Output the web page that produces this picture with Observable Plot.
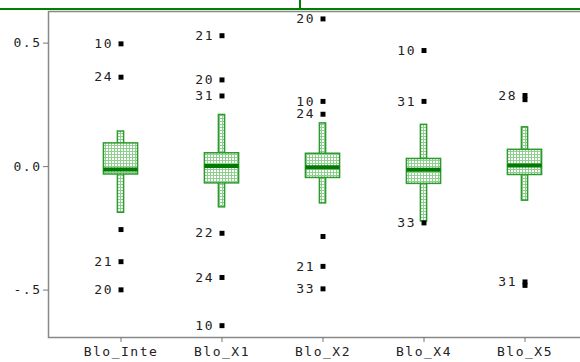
<!DOCTYPE html>
<html>
<head>
<meta charset="utf-8">
<script src="https://cdn.jsdelivr.net/npm/d3@7"></script>
<script src="https://cdn.jsdelivr.net/npm/@observablehq/plot@0.6"></script>
<style>
  html, body { margin: 0; padding: 0; background: #fff; overflow: hidden; }
  #top { position: relative; width: 580px; height: 10px; }
  #top .h { position: absolute; left: 0; top: 8px; width: 580px; height: 2px; background: #008000; }
  #top .v { position: absolute; left: 299px; top: 0; width: 2px; height: 8px; background: #008000; }
  #chart { width: 580px; overflow: hidden; }
  #chart svg { max-width: none !important; display: block; }
  svg text { font-family: "DejaVu Sans Mono", monospace; letter-spacing: 1.5px; }
</style>
</head>
<body>
<div id="top"><div class="h"></div><div class="v"></div></div>
<div id="chart"></div>
<script>
const categories = ["Blo_Inte", "Blo_X1", "Blo_X2", "Blo_X4", "Blo_X5"];
const whiskerLow  = [-0.187, -0.165, -0.149, -0.222, -0.138];
const q1          = [-0.032, -0.068, -0.046, -0.070, -0.034];
const median      = [-0.012,  0.002, -0.003, -0.013,  0.004];
const q3          = [ 0.094,  0.054,  0.052,  0.031,  0.068];
const whiskerHigh = [ 0.142,  0.209,  0.175,  0.169,  0.159];

const outlierCat = ["Blo_Inte","Blo_Inte","Blo_Inte","Blo_Inte","Blo_Inte",
  "Blo_X1","Blo_X1","Blo_X1","Blo_X1","Blo_X1","Blo_X1",
  "Blo_X2","Blo_X2","Blo_X2","Blo_X2","Blo_X2","Blo_X2",
  "Blo_X4","Blo_X4","Blo_X4",
  "Blo_X5","Blo_X5","Blo_X5","Blo_X5"];
const outlierValue = [0.497, 0.362, -0.255, -0.385, -0.499,
  0.530, 0.351, 0.286, -0.270, -0.449, -0.644,
  0.598, 0.264, 0.212, -0.283, -0.404, -0.495,
  0.470, 0.264, -0.228,
  0.288, 0.271, -0.467, -0.481];
const outlierLabel = ["10", "24", "", "21", "20",
  "21", "20", "31", "22", "24", "10",
  "20", "10", "24", "", "21", "33",
  "10", "31", "33",
  "28", "", "31", ""];

const yTicks = [0.5, 0, -0.5];
const yTickLabels = ["0.5", "0.0", "-.5"];

const boxes = categories.map((c, i) => ({
  cat: c, lo: whiskerLow[i], q1: q1[i], med: median[i], q3: q3[i], hi: whiskerHigh[i]
}));
const outliers = outlierCat.map((c, i) => ({cat: c, v: outlierValue[i], label: outlierLabel[i]}));

const green = "#2f9a2f";
const chart = Plot.plot({
  width: 585,
  height: 352,
  marginTop: 1,
  marginBottom: 25,
  marginLeft: 48,
  marginRight: 0,
  style: {background: "#fff", color: "#222", fontSize: "13px", fontFamily: "DejaVu Sans Mono, monospace"},
  x: {type: "band", domain: categories, range: [68, 577], padding: 0, label: null},
  y: {domain: [-0.692, 0.628], label: null},
  marks: [
    Plot.frame({stroke: "#888", strokeWidth: 1.5}),
    Plot.axisY({ticks: yTicks, tickFormat: d => yTickLabels[yTicks.indexOf(d)], tickSize: 5, tickPadding: 2, stroke: "#777", fill: "#222"}),
    Plot.axisX({tickSize: 5, tickPadding: 4, stroke: "#777", fill: "#222"}),
    Plot.barY(boxes, {x: "cat", y1: "lo", y2: "hi", fill: "url(#gridpat)", stroke: green, strokeWidth: 1.5, insetLeft: 47.4, insetRight: 47.4}),
    Plot.barY(boxes, {x: "cat", y1: "q1", y2: "q3", fill: "url(#gridpat)", stroke: green, strokeWidth: 1.5, insetLeft: 33.4, insetRight: 33.4}),
    Plot.tickY(boxes, {x: "cat", y: "med", stroke: "#007a00", strokeWidth: 4, insetLeft: 33.4, insetRight: 33.4}),
    Plot.dot(outliers, {x: "cat", y: "v", symbol: "square", r: 2.8, fill: "#000", stroke: "none"}),
    Plot.text(outliers, {x: "cat", y: "v", text: "label", textAnchor: "end", dx: -8, fill: "#222", fontSize: 13})
  ]
});

const defs = d3.select(chart).insert("defs", ":first-child");
const pat = defs.append("pattern").attr("id", "gridpat").attr("patternUnits", "userSpaceOnUse")
  .attr("width", 3).attr("height", 3);
pat.append("rect").attr("width", 3).attr("height", 3).attr("fill", "#ffffff");
pat.append("path").attr("d", "M0 0.5H3M0.5 0V3").attr("stroke", "#8fcf8f").attr("stroke-width", 1);

document.getElementById("chart").appendChild(chart);
</script>
</body>
</html>
